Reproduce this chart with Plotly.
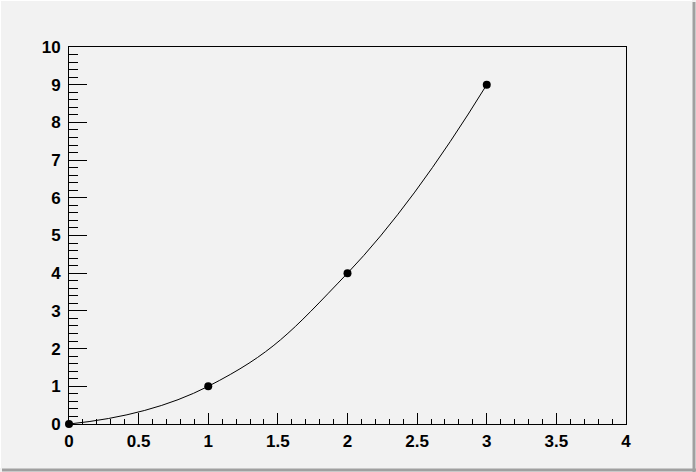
import plotly.graph_objects as go

x_vals = [0, 1, 2, 3]
y_vals = [0, 1, 4, 9]
x_ticks = [0, 0.5, 1, 1.5, 2, 2.5, 3, 3.5, 4]
x_tick_text = ["0", "0.5", "1", "1.5", "2", "2.5", "3", "3.5", "4"]
y_ticks = list(range(0, 11))
y_tick_text = [str(v) for v in y_ticks]

W, H = 696, 472
L, R, T, B = 69, 70, 47, 48
pw, ph = W - L - R, H - T - B

def px(xp):
    return (xp - L) / pw

def py(yp):
    return (H - B - yp) / ph

fig = go.Figure()
fig.add_trace(go.Scatter(
    x=x_vals, y=y_vals, mode="lines+markers",
    line=dict(color="black", width=1, shape="spline", smoothing=1.3),
    marker=dict(color="black", size=8, symbol="circle"),
    cliponaxis=False, showlegend=False, hoverinfo="skip",
))

font = dict(family="Liberation Sans, Arial, sans-serif", size=17, color="black", weight="bold")

fig.update_layout(
    width=W, height=H,
    margin=dict(l=L, r=R, t=T, b=B, pad=0),
    paper_bgcolor="#f2f2f2", plot_bgcolor="#f2f2f2",
    xaxis=dict(range=[0, 4], tickvals=x_ticks, ticktext=x_tick_text,
               ticks="inside", ticklen=11, tickwidth=1, tickcolor="black",
               minor=dict(ticks="inside", dtick=0.1, tick0=0, ticklen=5, tickcolor="black", tickwidth=1),
               showline=True, linecolor="black", linewidth=1, mirror=True,
               showgrid=False, zeroline=False, tickfont=font, ticklabelstandoff=2),
    yaxis=dict(range=[0, 10], tickvals=y_ticks, ticktext=y_tick_text,
               ticks="inside", ticklen=18, tickwidth=1, tickcolor="black",
               minor=dict(ticks="inside", dtick=0.2, tick0=0, ticklen=9, tickcolor="black", tickwidth=1),
               showline=True, linecolor="black", linewidth=1, mirror=True,
               showgrid=False, zeroline=False, tickfont=font, ticklabelstandoff=4),
    shapes=[
        dict(type="line", xref="paper", yref="paper", x0=px(694), x1=px(694), y0=py(2), y1=py(H),
             line=dict(color="#a0a0a0", width=3)),
        dict(type="line", xref="paper", yref="paper", x0=px(2), x1=px(W), y0=py(470), y1=py(470),
             line=dict(color="#a0a0a0", width=3)),
        dict(type="line", xref="paper", yref="paper", x0=px(0), x1=px(692), y0=py(0.5), y1=py(0.5),
             line=dict(color="#ffffff", width=1)),
        dict(type="line", xref="paper", yref="paper", x0=px(0.5), x1=px(0.5), y0=py(0), y1=py(468),
             line=dict(color="#ffffff", width=1)),
    ],
)

fig.write_html("out.html", config={"displayModeBar": False, "staticPlot": True},
               post_script="document.body.style.margin='0';document.body.style.overflow='hidden';")
